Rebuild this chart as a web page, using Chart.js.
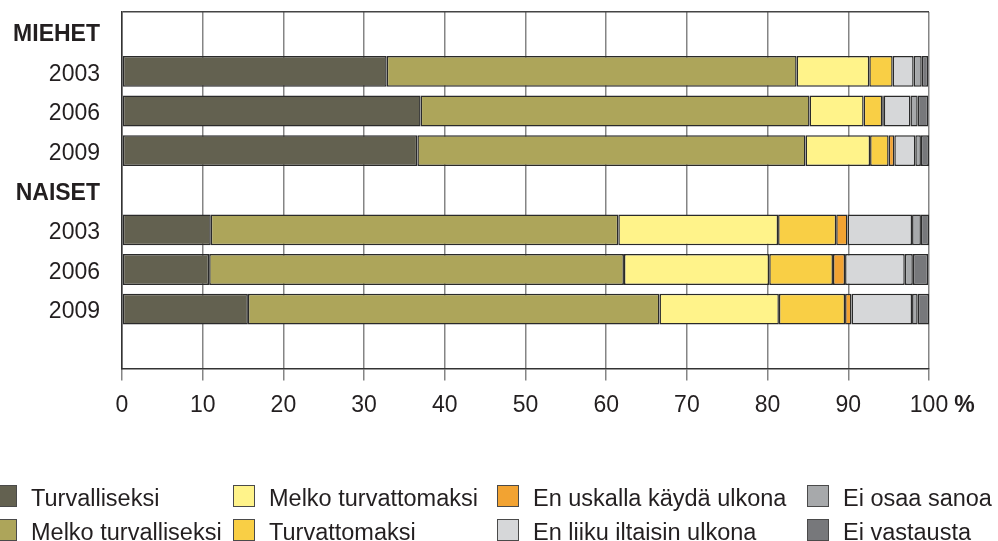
<!DOCTYPE html>
<html>
<head>
<meta charset="utf-8">
<script src="https://cdn.jsdelivr.net/npm/chart.js@4.4.0/dist/chart.umd.min.js"></script>
<style>
  body { margin: 0; background: #fff; }
  #wrap { position: relative; width: 998px; height: 541px; overflow: hidden; }
  #chart { position: absolute; left: 0; top: 0; }
  #legend {
    position: absolute; left: -5px; top: 485px;
    display: grid;
    grid-template-columns: 238px 264px 310px 200px;
    grid-template-rows: 34px 34px;
    grid-auto-flow: column;
    font: 23.5px "Liberation Sans", Arial, sans-serif;
    color: #231f20;
  }
  .item { display: flex; align-items: center; height: 22px; white-space: nowrap; }
  .item span.txt { position: relative; top: 2px; }
  .box { width: 22px; height: 22px; box-sizing: border-box; border: 1px solid #4a4a4a; margin-right: 14px; flex: none; }
</style>
</head>
<body>
<div id="wrap">
  <canvas id="chart" width="998" height="541"></canvas>
  <div id="legend"></div>
</div>
<script>
const categories = ["MIEHET", "2003", "2006", "2009", "NAISET", "2003", "2006", "2009", ""];
const xTicks = [0, 10, 20, 30, 40, 50, 60, 70, 80, 90, 100];

const seriesNames = ["Turvalliseksi", "Melko turvalliseksi", "Melko turvattomaksi", "Turvattomaksi",
  "En uskalla käydä ulkona", "En liiku iltaisin ulkona", "Ei osaa sanoa", "Ei vastausta"];
const seriesColors = ["#636150", "#ada55a", "#fff38a", "#f9cf45", "#f2a332", "#d6d7d9", "#a7a9ab", "#77787b"];

const turvalliseksi      = [null, 32.8, 37.0, 36.6, null, 11.0, 10.8, 15.6, null];
const melkoTurvalliseksi = [null, 50.8, 48.2, 48.1, null, 50.5, 51.4, 51.0, null];
const melkoTurvattomaksi = [null,  9.0,  6.7,  8.0, null, 19.8, 18.0, 14.8, null];
const turvattomaksi      = [null,  2.9,  2.3,  2.3, null,  7.2,  7.9,  8.2, null];
const enUskalla          = [null,  0.0,  0.2,  0.7, null,  1.4,  1.5,  0.8, null];
const enLiiku            = [null,  2.6,  3.3,  2.6, null,  8.0,  7.4,  7.5, null];
const eiOsaa             = [null,  1.0,  0.9,  0.7, null,  1.1,  1.0,  0.7, null];
const eiVastausta        = [null,  0.8,  1.3,  1.0, null,  1.0,  1.9,  1.4, null];

const seriesValues = [turvalliseksi, melkoTurvalliseksi, melkoTurvattomaksi, turvattomaksi,
  enUskalla, enLiiku, eiOsaa, eiVastausta];

const FONT = '"Liberation Sans", Arial, sans-serif';
const TEXT = "#231f20";

// bold "%" after the last x tick label
const percentSign = {
  id: "percentSign",
  afterDraw(chart) {
    const x = chart.scales.x;
    const items = x.getLabelItems();
    const last = items[items.length - 1];
    const ctx = chart.ctx;
    const px = x.getPixelForValue(100);
    ctx.save();
    ctx.font = "23px " + FONT;
    const w = ctx.measureText("100").width;
    ctx.font = "bold 23px " + FONT;
    ctx.fillStyle = TEXT;
    ctx.textAlign = "left";
    ctx.textBaseline = last.options.textBaseline;
    ctx.fillText("%", px + w / 2 + 6, last.options.translation[1] + last.textOffset);
    ctx.restore();
  }
};

const chart = new Chart(document.getElementById("chart"), {
  type: "bar",
  data: {
    labels: categories,
    datasets: seriesNames.map((name, i) => ({
      label: name,
      data: seriesValues[i],
      backgroundColor: seriesColors[i],
      borderColor: "#2a2a2a",
      borderWidth: 1.5,
      borderSkipped: false,
      barPercentage: 0.78,
      categoryPercentage: 1
    }))
  },
  options: {
    indexAxis: "y",
    responsive: false,
    animation: false,
    layout: { padding: { top: 12, right: 69, left: 0, bottom: 0 } },
    plugins: {
      legend: { display: false },
      tooltip: { enabled: false }
    },
    scales: {
      x: {
        stacked: true,
        min: 0,
        max: 100,
        afterBuildTicks: s => { s.ticks = xTicks.map(v => ({ value: v })); },
        afterFit: s => { s.height = 172.5; },
        ticks: { font: { family: FONT, size: 23 }, color: TEXT, padding: 11, autoSkip: false, maxRotation: 0 },
        grid: { color: "#858585", lineWidth: 1.5, tickLength: 12 },
        border: { color: "#333", width: 1.5 }
      },
      y: {
        stacked: true,
        afterFit: s => { s.width = 122; s.paddingTop = 0; s.paddingBottom = 0; },
        ticks: {
          font: c => ({ family: FONT, size: 23, weight: (c.index === 0 || c.index === 4) ? "bold" : "normal" }),
          color: TEXT,
          padding: 22,
          labelOffset: 3,
          autoSkip: false
        },
        grid: {
          offset: true,
          drawTicks: false,
          lineWidth: 1.5,
          color: c => c.index === 0 ? "#444" : "transparent"
        },
        border: { color: "#333", width: 1.5 }
      }
    }
  },
  plugins: [percentSign]
});

// legend, in columns
const legend = document.getElementById("legend");
chart.data.datasets.forEach(ds => {
  const item = document.createElement("div");
  item.className = "item";
  const box = document.createElement("span");
  box.className = "box";
  box.style.background = ds.backgroundColor;
  const txt = document.createElement("span");
  txt.className = "txt";
  txt.textContent = ds.label;
  item.appendChild(box);
  item.appendChild(txt);
  legend.appendChild(item);
});
</script>
</body>
</html>
